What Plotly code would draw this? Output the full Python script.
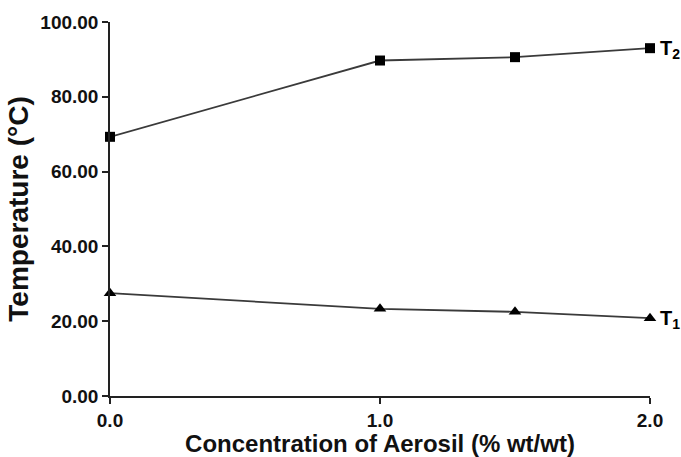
import plotly.graph_objects as go

conc = [0.0, 1.0, 1.5, 2.0]
t2 = [69.3, 89.7, 90.6, 93.0]
t1 = [27.5, 23.3, 22.5, 20.8]
x_ticks = [0.0, 1.0, 2.0]
x_tick_text = ["0.0", "1.0", "2.0"]
y_ticks = [0, 20, 40, 60, 80, 100]
y_tick_text = ["0.00", "20.00", "40.00", "60.00", "80.00", "100.00"]

FONT = "Liberation Sans, Arial, sans-serif"

fig = go.Figure()
fig.add_trace(go.Scatter(x=conc, y=t2, mode="lines+markers",
                         line=dict(color="#3a3a3a", width=1.8),
                         marker=dict(symbol="square", size=10, color="black"),
                         cliponaxis=False, showlegend=False))
fig.add_trace(go.Scatter(x=conc, y=t1, mode="lines+markers",
                         line=dict(color="#3a3a3a", width=1.8),
                         marker=dict(symbol="triangle-up", size=11, color="black"),
                         cliponaxis=False, showlegend=False))

fig.add_annotation(x=2.0, y=t2[-1], text="T<sub>2</sub>", showarrow=False,
                   xanchor="left", xshift=8, yshift=-1,
                   font=dict(family=FONT, size=20, color="black", weight="bold"))
fig.add_annotation(x=2.0, y=t1[-1], text="T<sub>1</sub>", showarrow=False,
                   xanchor="left", xshift=8, yshift=-1,
                   font=dict(family=FONT, size=20, color="black", weight="bold"))

fig.update_layout(
    width=681, height=457,
    margin=dict(l=110, r=31, t=22, b=61),
    paper_bgcolor="white", plot_bgcolor="white",
    font=dict(family=FONT, color="black"),
    xaxis=dict(range=[0, 2], tickvals=x_ticks, ticktext=x_tick_text,
               showgrid=False, zeroline=False, showline=True, linecolor="#222222", linewidth=1.5,
               ticks="outside", ticklen=6, tickwidth=1.5, tickcolor="#222222",
               tickfont=dict(family=FONT, size=19, color="#111111", weight="bold"),
               automargin=False,
               title=dict(text="Concentration of Aerosil (% wt/wt)",
                          font=dict(family=FONT, size=24, color="#111111", weight="bold"),
                          standoff=4)),
    yaxis=dict(range=[0, 100], tickvals=y_ticks, ticktext=y_tick_text,
               showgrid=False, zeroline=False, showline=True, linecolor="#222222", linewidth=1.5,
               ticks="outside", ticklen=6, tickwidth=1.5, tickcolor="#222222",
               tickfont=dict(family=FONT, size=19, color="#111111", weight="bold"),
               automargin=False,
               title=dict(text="Temperature (°C)",
                          font=dict(family=FONT, size=28, color="#111111", weight="bold"),
                          standoff=4)),
)

fig.write_html("out.html")
